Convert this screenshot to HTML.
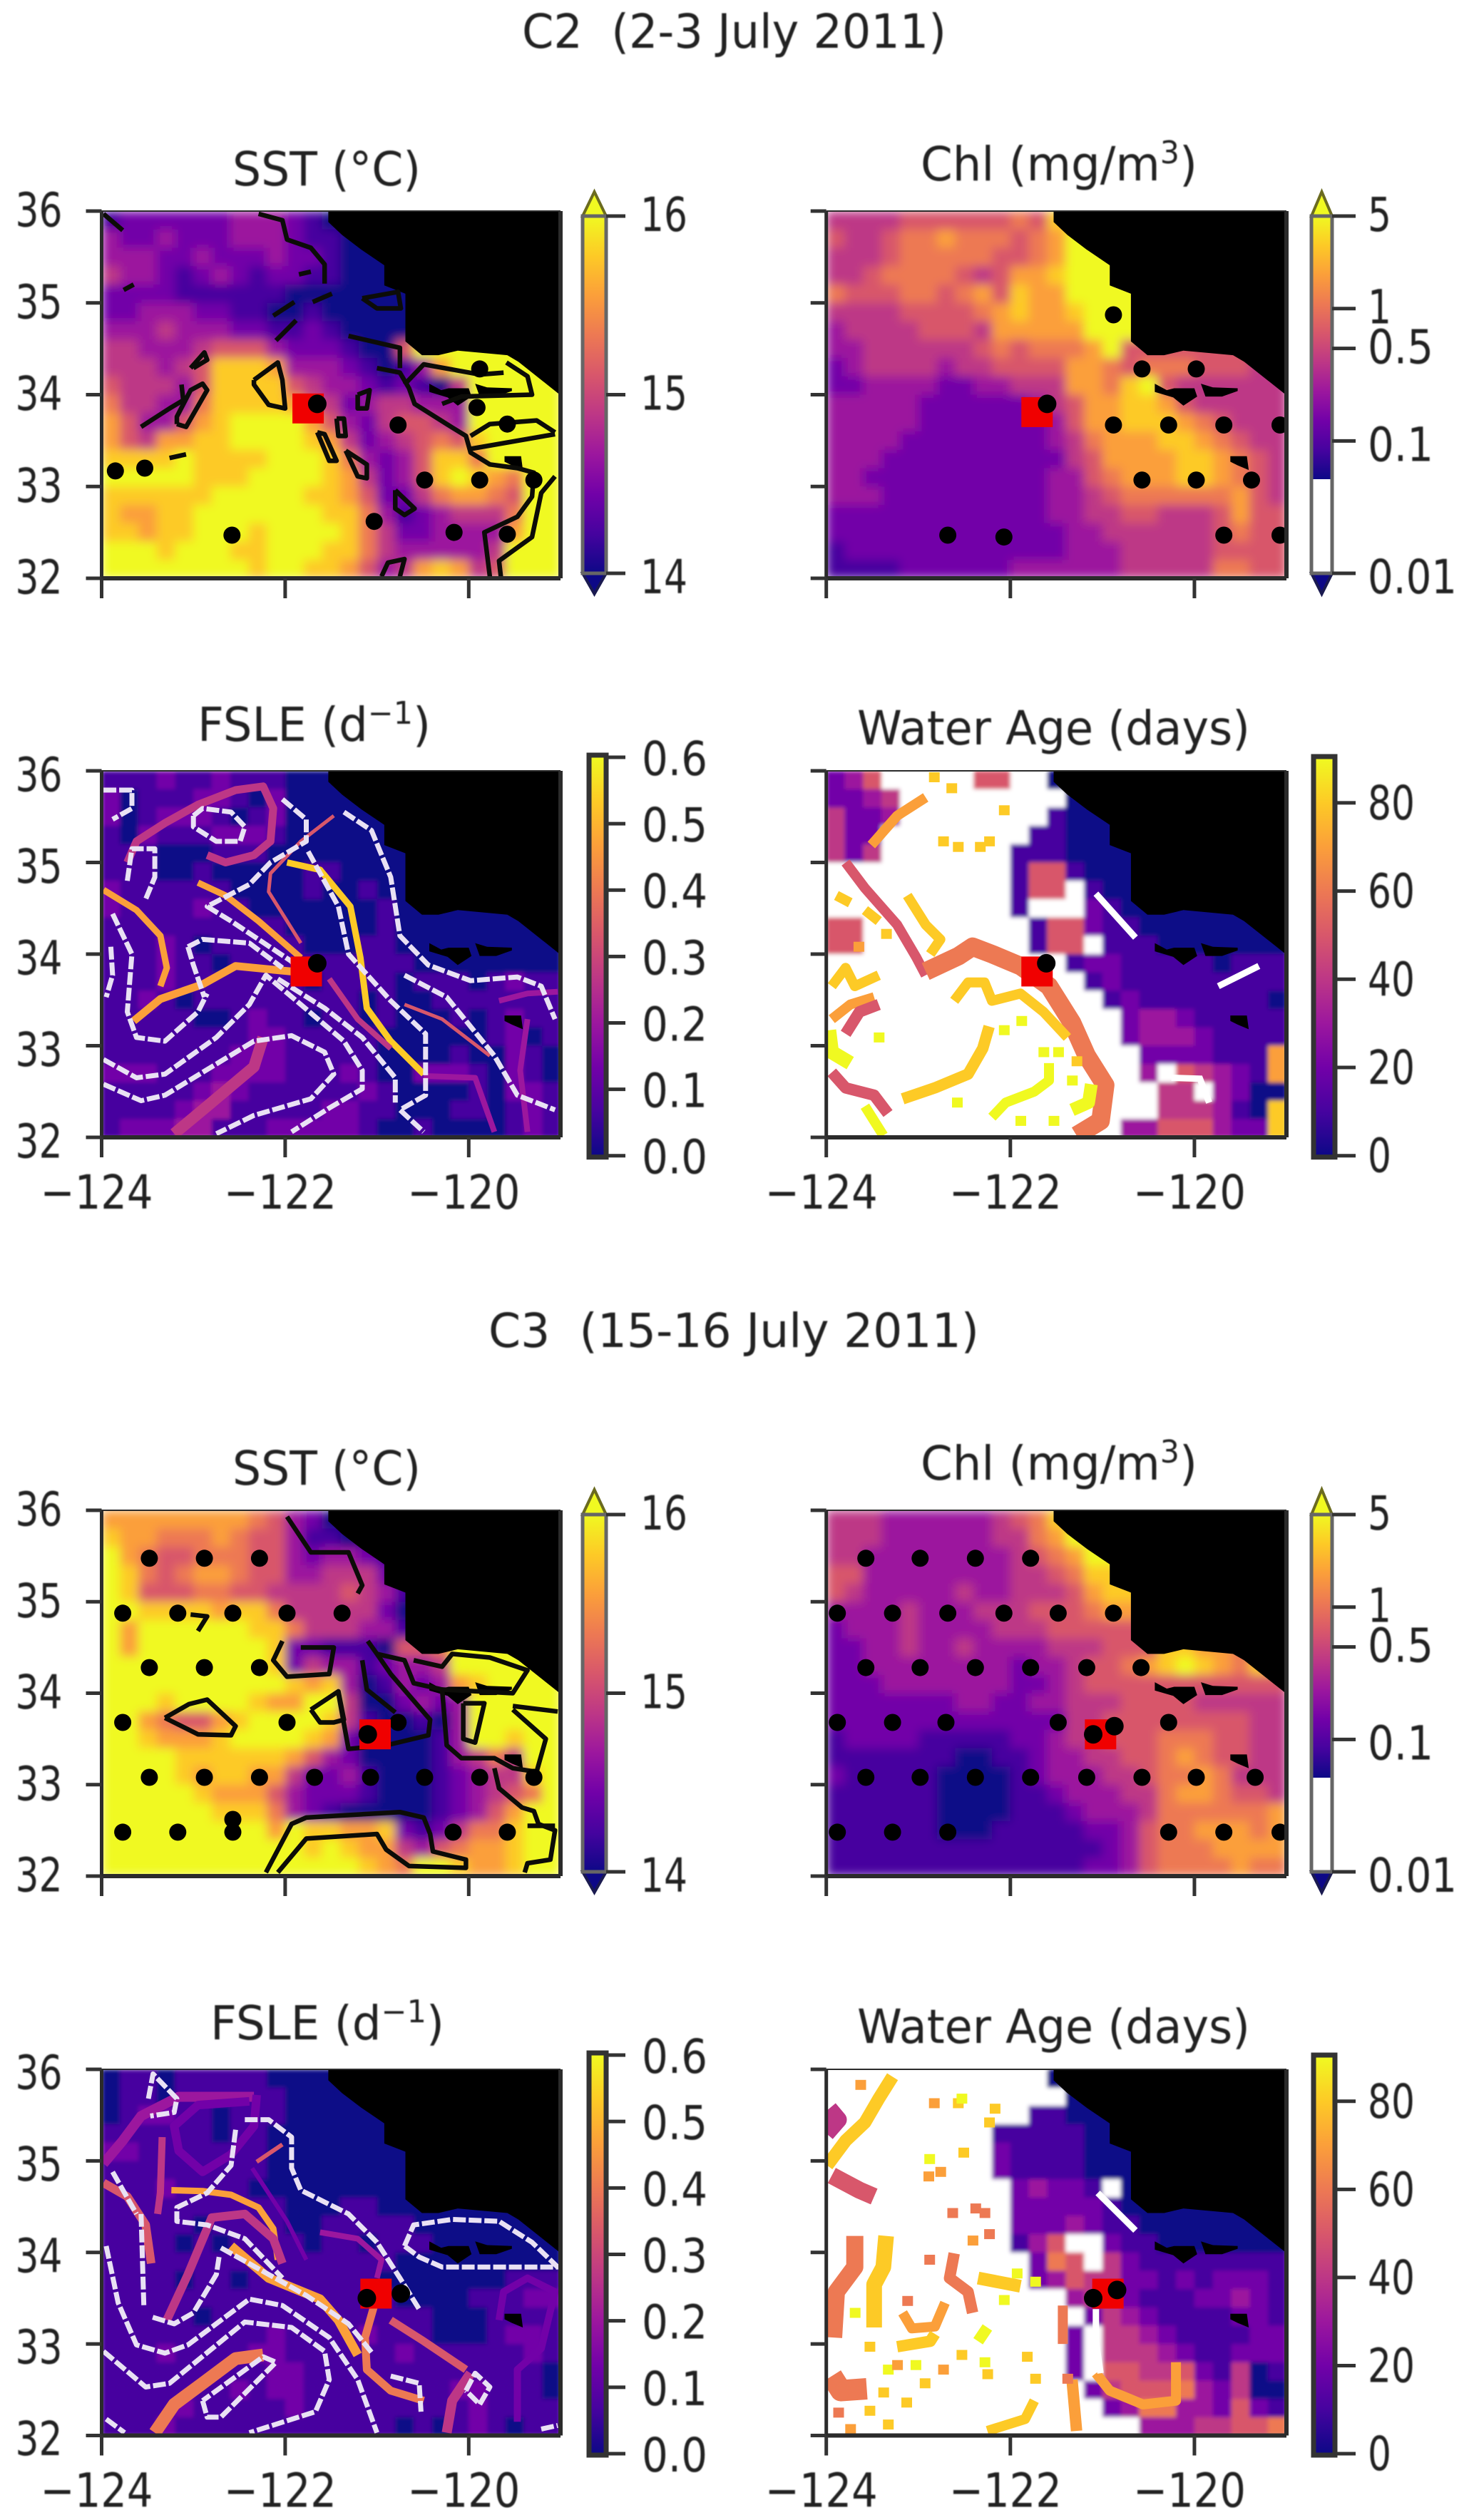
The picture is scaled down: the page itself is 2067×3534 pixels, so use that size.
<!DOCTYPE html>
<html lang="en">
<head>
<meta charset="utf-8">
<title>C2 and C3 cycle maps</title>
<style>
html,body{margin:0;padding:0;background:#fff;width:2067px;height:3534px;overflow:hidden}
svg{display:block}
text{font-family:"DejaVu Sans","Liberation Sans",sans-serif;fill:#222;font-size:66px}
</style>
</head>
<body>
<svg id="fig" xmlns="http://www.w3.org/2000/svg" width="2067" height="3534" viewBox="0 0 2067 3534">
<defs>
<filter id="soft" x="0" y="0" width="100%" height="100%"><feGaussianBlur stdDeviation="7" edgeMode="duplicate"/></filter>
<filter id="softer" x="0" y="0" width="100%" height="100%"><feGaussianBlur stdDeviation="3" edgeMode="duplicate"/></filter>
<filter id="textSoft" x="-5%" y="-20%" width="110%" height="140%"><feGaussianBlur stdDeviation="0.9"/></filter>
</defs>
<g id="plots"></g>
<g id="labels" filter="url(#textSoft)">
<text x="732" y="67" textLength="595" lengthAdjust="spacingAndGlyphs">C2&#160;&#160;(2-3 July 2011)</text>
<text x="685" y="1889" textLength="688" lengthAdjust="spacingAndGlyphs">C3&#160;&#160;(15-16 July 2011)</text>
<text x="326" y="260" textLength="264" lengthAdjust="spacingAndGlyphs">SST (°C)</text>
<text x="1291" y="253" textLength="388" lengthAdjust="spacingAndGlyphs">Chl (mg/m<tspan dy="-24" font-size="44">3</tspan><tspan dy="24">)</tspan></text>
<text x="277" y="1039" textLength="327" lengthAdjust="spacingAndGlyphs">FSLE (d<tspan dy="-24" font-size="44">−1</tspan><tspan dy="24">)</tspan></text>
<text x="1202" y="1044" textLength="551" lengthAdjust="spacingAndGlyphs">Water Age (days)</text>
<text x="326" y="2082" textLength="264" lengthAdjust="spacingAndGlyphs">SST (°C)</text>
<text x="1291" y="2075" textLength="388" lengthAdjust="spacingAndGlyphs">Chl (mg/m<tspan dy="-24" font-size="44">3</tspan><tspan dy="24">)</tspan></text>
<text x="295" y="2860" textLength="328" lengthAdjust="spacingAndGlyphs">FSLE (d<tspan dy="-24" font-size="44">−1</tspan><tspan dy="24">)</tspan></text>
<text x="1202" y="2865" textLength="551" lengthAdjust="spacingAndGlyphs">Water Age (days)</text>
</g>
</svg>
<script>
const _=-1;
const plasmaStops=['#0d0887','#46039f','#7201a8','#9c179e','#bd3786','#d8576b','#ed7953','#fb9f3a','#fdca26','#f0f921'];
const xTicks=[-124,-122,-120];
const xTickLabels=['−124','−122','−120'];
const yTicks=[36,35,34,33,32];
const yTickLabels=['36','35','34','33','32'];
const sstCbTicks=[16,15,14];
const sstCbLabels=['16','15','14'];
const chlCbTicks=[5,1,0.5,0.1,0.01];
const chlCbLabels=['5','1','0.5','0.1','0.01'];
const fsleCbTicks=[0.6,0.5,0.4,0.3,0.2,0.1,0];
const fsleCbLabels=['0.6','0.5','0.4','0.3','0.2','0.1','0.0'];
const ageCbTicks=[80,60,40,20,0];
const ageCbLabels=['80','60','40','20','0'];
const coastLine=[-121.53,36,-121.53,35.88,-121.38,35.74,-121.17,35.58,-120.92,35.41,-120.92,35.19,-120.69,35.10,-120.69,34.58,-120.51,34.43,-120.33,34.43,-120.12,34.48,-119.58,34.43,-119.46,34.36,-119.02,34.01,-119,34.01,-119,36];
const islandA=[-120.43,34.12,-120.3,34.05,-120.22,34.07,-120.0,34.07,-119.97,33.98,-120.12,33.88,-120.23,33.97,-120.43,34.03];
const islandB=[-119.93,34.12,-119.8,34.08,-119.53,34.07,-119.53,34.04,-119.7,33.98,-119.88,33.98];
const islandC=[-119.61,33.33,-119.43,33.33,-119.41,33.18,-119.53,33.23,-119.61,33.27];

const sstC2Grid=[
[1,2,2,2,2,2,2,3,3,3,2,1,0],
[3,2,2,3,2,2,2,3,3,3,2,1,1,0],
[3,3,3,2,2,3,2,2,2,3,2,2,1,0],
[4,3,3,2,1,2,3,2,1,2,2,1,1,0],
[2,2,2,2,1,1,1,1,1,1,0,0,0,0],
[2,2,3,3,3,2,2,1,1,0,0,1,0,0],
[3,3,3,4,3,3,3,2,2,1,1,2,1,0],
[4,4,3,3,3,4,5,5,5,3,2,2,2,1,0,0,5,9],
[4,4,4,3,4,5,8,8,8,7,3,3,3,2,1,0,1,3,7,9],
[5,4,4,4,3,5,8,8,8,8,5,4,3,3,2,1,2,1,0,4,9],
[6,4,4,3,3,6,8,8,8,8,7,5,4,2,3,4,4,3,3,3,9],
[7,5,3,3,5,7,8,9,9,9,9,7,5,3,2,4,5,5,4,3,9],
[7,5,4,7,7,8,8,9,9,9,9,8,7,4,2,3,4,5,6,5,8,9],
[8,8,8,8,9,8,8,8,8,9,9,9,8,6,3,2,3,5,8,8,6,9],
[9,9,9,9,9,8,8,8,9,9,9,9,8,7,4,2,3,5,8,9,8,7,6,9],
[8,8,8,8,8,8,9,9,9,9,9,8,8,7,5,2,2,4,6,7,7,6,5,9],
[8,7,7,8,8,9,9,9,9,9,9,9,8,8,6,3,1,2,3,4,4,4,6,9],
[8,8,7,8,8,9,9,9,8,9,9,9,9,8,6,4,2,2,3,3,3,3,7,9],
[9,9,9,8,9,9,9,8,8,9,9,9,8,8,6,4,3,3,3,3,3,4,9],
[9,9,9,9,9,9,9,9,8,9,9,8,8,7,5,3,4,7,8,7,4,5,9]];
const sstC2Contours=[
[-119.77,32.02,-119.83,32.5,-119.47,32.67,-119.31,32.89,-119.29,33.15,-119.47,33.2,-119.77,33.24,-119.98,33.37,-120.03,33.55,-120.24,33.68,-120.59,33.9,-120.65,34.07,-120.75,34.24,-121.0,34.29],
[-119.65,32.02,-119.67,32.19,-119.31,32.45,-119.21,32.93,-119.06,33.11],
[-119.98,33.55,-119.77,33.68,-119.26,33.72,-119.06,33.59],
[-119.98,33.41,-119.06,33.57],
[-120.29,33.9,-120.08,33.98,-119.31,34.0,-119.36,34.2,-119.59,34.35],
[-120.7,34.11,-120.49,34.33,-119.88,34.22,-119.62,34.24],
[-123.18,33.68,-123.08,33.65,-122.85,34.05,-122.9,34.12,-123.03,34.05,-123.18,33.76,-123.18,33.68],
[-123.57,33.65,-123.26,33.85,-123.11,33.94,-123.13,34.11],
[-122.34,34.16,-122.08,34.35,-122.03,34.16,-122.0,33.85,-122.18,33.89,-122.34,34.11,-122.34,34.16],
[-123.03,34.29,-122.88,34.46,-122.85,34.38,-123.0,34.29],
[-121.44,33.74,-121.36,33.74,-121.34,33.55,-121.42,33.55,-121.44,33.74],
[-121.65,33.59,-121.57,33.57,-121.44,33.28,-121.52,33.28,-121.65,33.59],
[-121.34,33.39,-121.11,33.24,-121.11,33.09,-121.21,33.11,-121.34,33.39],
[-120.8,32.96,-120.59,32.76,-120.7,32.69,-120.8,32.76,-120.8,32.96],
[-121.21,34.0,-121.08,34.05,-121.11,33.85,-121.21,33.85,-121.21,34.0],
[-120.95,32.02,-120.88,32.17,-120.7,32.21,-120.75,32.02],
[-122.29,35.97,-122.03,35.9,-121.98,35.69,-121.72,35.6,-121.57,35.42,-121.57,35.21],
[-121.16,35.05,-120.77,35.12,-120.74,34.94,-121.0,34.94,-121.16,35.05],
[-122.13,34.86,-121.9,35.01],[-122.1,34.59,-121.88,34.81],[-121.7,35.01,-121.49,35.1],[-121.85,35.31,-121.72,35.34],
[-121.31,34.64,-120.75,34.51,-120.75,34.29],
[-123.98,35.97,-123.77,35.79],[-123.76,35.14,-123.65,35.2],[-123.26,33.31,-123.08,33.35]];
const sstC2Dots=[-120.77,33.67,-120.48,33.07,-119.88,33.07,-122.58,32.47,-121.03,32.62,-119.88,34.28,-119.58,33.68,-119.91,33.86,-123.85,33.17,-123.53,33.2,-119.58,32.48,-120.16,32.5,-119.29,33.07];
const sstC2Red=[-121.75,33.85];
const sstC2Black=[-121.65,33.9];

const chlC2Grid=[
[4,4,4,4,5,5,5,5,5,5,6,5,8,8],
[5,4,4,5,6,6,7,6,6,6,5,6,7,9],
[4,4,4,5,6,6,6,6,6,5,5,6,7,9],
[4,4,5,6,6,6,6,5,4,5,7,7,8,9],
[6,5,5,5,6,6,5,6,7,5,8,7,7,9],
[4,4,4,4,5,5,5,5,6,7,8,7,7,8,9],
[3,4,4,4,4,5,5,5,4,7,7,7,7,7,9],
[3,3,4,4,4,4,4,4,5,6,5,6,6,6,7,9,5],
[2,3,4,4,4,4,3,4,4,5,5,5,5,7,7,6,5,6,6,6,5,5,5,4,4],
[2,2,3,3,3,3,2,2,3,3,4,4,4,7,7,6,8,9,5,4,4,4,4,4,4],
[3,3,3,3,3,2,2,2,2,2,2,3,4,5,7,7,8,8,7,5,4,4,4,4,4],
[3,3,3,3,3,2,2,2,2,2,2,2,3,5,7,7,8,8,8,7,6,5,4,4,4],
[3,3,3,3,2,2,2,2,2,2,2,2,3,4,6,7,7,7,8,8,7,6,5,4,4],
[3,3,3,2,2,2,2,2,2,2,2,2,2,4,5,7,7,7,7,8,8,7,6,5,4],
[3,3,2,2,2,2,2,2,2,2,2,2,3,3,5,6,7,7,7,8,8,7,6,5,4],
[3,3,3,2,2,2,2,2,2,2,2,2,3,3,4,5,6,6,6,6,6,6,7,5,4],
[2,2,2,2,2,2,2,2,2,2,2,2,3,3,4,4,5,5,4,4,4,5,7,5,5],
[2,2,2,2,2,2,2,2,2,2,2,2,2,3,3,4,4,4,4,4,4,5,6,5,5],
[1,2,2,2,2,2,2,2,2,2,2,2,2,3,3,3,4,4,4,4,4,5,5,5,5],
[1,1,1,1,2,2,2,2,2,2,3,3,3,3,3,3,4,4,4,4,4,6,6,5,5]];
const chlC2Dots=[-120.88,34.87,-120.57,34.28,-119.98,34.28,-120.88,33.67,-120.28,33.67,-119.68,33.67,-119.07,33.67,-120.57,33.07,-119.98,33.07,-119.38,33.07,-122.68,32.47,-122.07,32.45,-119.68,32.47,-119.07,32.47];
const chlC2Red=[-121.71,33.81];
const chlC2Black=[-121.6,33.9];

const fsleC2Grid=[
[1,1,1,2,1,1,2,1,1,1,0],
[2,0,1,1,1,2,2,1,0,2,0],
[2,0,1,2,2,2,1,0,1,2,0],
[1,0,2,1,1,1,2,2,2,1,0],
[1,1,1,0,0,0,1,1,1,0,0],
[1,1,1,0,0,1,0,0,0,0,0,1,1,0],
[2,1,1,1,1,1,1,0,0,0,0,1,0,0,1,0],
[2,1,1,1,1,2,1,1,0,0,0,0,0,0,0,1,0],
[1,1,1,1,1,1,1,1,1,1,0,0,0,0,0,1,0],
[1,1,1,2,1,0,1,1,1,1,1,0,0,0,1,1,0],
[1,1,1,2,1,1,0,1,1,1,1,1,1,1,1,1,1,0],
[1,1,1,2,1,1,1,1,1,1,1,0,1,1,1,1,0,1,1,1,0,1,2,1,1],
[1,1,2,1,0,1,1,1,1,1,1,1,1,1,0,1,0,0,1,1,1,1,1,1,1],
[1,1,1,1,1,0,0,1,2,1,1,0,1,1,0,1,0,0,0,1,0,1,2,1,1],
[1,1,1,1,1,1,1,1,2,2,1,1,1,1,1,0,0,0,0,0,0,1,2,0,1],
[1,1,1,1,1,1,1,2,2,2,1,1,1,1,1,0,0,0,0,1,0,0,2,1,0],
[2,2,2,1,1,1,2,2,2,2,1,1,1,2,1,0,0,2,2,2,1,0,2,1,0],
[1,1,1,1,1,2,3,2,1,1,1,1,1,1,2,1,0,0,0,0,1,0,2,2,1],
[1,1,1,1,2,3,3,1,1,1,1,1,2,2,1,1,0,0,0,1,1,0,1,2,1],
[1,2,2,2,3,3,1,1,1,2,2,2,2,2,1,0,0,1,0,0,0,0,1,2,1]];
const fsleC2RidgeLevels=[4,7,7,7,5,8,5,3,3,3,4,4];
const fsleC2Ridges=[
[-123.72,35.0,-123.62,35.23,-123.31,35.43,-122.95,35.63,-122.54,35.79,-122.24,35.83,-122.13,35.59,-122.16,35.23,-122.34,35.08,-122.65,35.0,-122.85,35.08],
[-123.98,34.70,-123.62,34.48,-123.36,34.2,-123.29,33.85,-123.36,33.65],
[-122.95,34.78,-122.65,34.64,-122.29,34.36,-121.83,33.96],
[-123.65,33.27,-123.36,33.51,-122.9,33.67,-122.54,33.87,-121.93,33.81],
[-121.47,35.51,-121.83,35.23,-122.16,34.88,-122.18,34.68,-121.98,34.36,-121.83,34.12],
[-121.98,35.0,-121.62,34.92,-121.29,34.52,-121.18,33.96,-121.11,33.41,-120.85,33.05,-120.49,32.69],
[-120.7,33.45,-120.29,33.29,-119.77,32.89],
[-120.49,32.67,-119.93,32.65,-119.72,32.06],
[-119.67,33.49,-119.36,33.57,-119.03,33.59],
[-119.36,33.29,-119.44,32.73,-119.36,32.06],
[-121.52,33.73,-121.21,33.29,-120.85,32.97],
[-123.21,32.04,-122.85,32.34,-122.34,32.77,-122.24,33.09]];
const fsleC2Valleys=[
[-123.98,35.79,-123.67,35.79,-123.67,35.59,-123.88,35.47],
[-123.0,35.51,-122.9,35.59,-122.59,35.55,-122.44,35.39,-122.49,35.23,-122.75,35.23,-123.0,35.39,-123.0,35.51],
[-122.03,35.69,-121.77,35.47,-121.77,35.23,-122.16,35.0,-122.39,34.76,-122.85,34.52,-122.59,34.36,-121.93,33.92,-121.83,33.77],
[-121.36,35.55,-121.06,35.35,-120.85,34.84,-120.75,34.2,-120.44,33.88,-119.98,33.71,-119.47,33.75,-119.21,33.65,-119.06,33.29],
[-121.75,35.12,-121.42,34.52,-121.31,34.0,-120.85,33.49,-120.47,33.13,-120.47,32.46,-120.75,32.3,-120.49,32.06],
[-123.72,34.8,-123.67,35.15,-123.42,35.15,-123.42,34.84,-123.52,34.6],
[-123.9,34.08,-123.88,33.77,-123.95,33.53],
[-123.88,34.44,-123.67,34.0,-123.72,33.37,-123.62,33.09,-123.31,33.05,-122.95,33.37,-122.85,33.57],
[-123.98,32.85,-123.62,32.65,-123.31,32.69,-122.75,33.09,-122.39,33.45,-122.21,33.77,-121.83,33.45,-121.36,33.05,-121.16,32.73,-121.16,32.53,-121.52,32.32,-121.93,32.06],
[-123.98,32.58,-123.57,32.4,-123.31,32.46,-122.34,33.05,-121.93,33.11,-121.57,32.93,-121.47,32.69,-121.72,32.42,-122.34,32.24,-122.75,32.04],
[-123.06,34.08,-122.9,34.16,-122.39,34.12,-122.03,33.85],
[-122.08,33.73,-121.57,33.41,-121.16,33.09,-120.8,32.65,-120.8,32.38],
[-120.7,33.77,-120.24,33.53,-119.72,32.89,-119.47,32.46,-119.06,32.3],
[-123.06,34.08,-123.0,33.88,-122.88,33.53]];
const fsleC2Red=[-121.77,33.81];
const fsleC2Black=[-121.65,33.9];

const ageC2Grid=[
[2,3,5,_,_,_,_,_,5,5,_,_,0],
[2,2,3,4,_,_,_,_,_,_,_,_,_,0],
[4,2,2,3,_,_,_,_,_,_,_,_,1,0],
[4,2,2,_,_,_,_,_,_,_,_,1,1,0],
[4,2,4,_,_,_,_,_,_,_,1,1,1,0],
[_,_,_,_,_,_,_,_,_,_,1,5,5,1,0],
[_,_,_,_,_,_,_,_,_,_,1,5,5,_,1,0],
[_,_,_,_,_,_,_,_,_,_,1,_,_,_,2,1,0],
[5,5,_,_,_,_,_,_,_,_,_,1,5,5,2,1,1,0],
[5,5,_,_,_,_,_,_,_,_,_,1,5,5,_,1,1,1,0],
[_,_,_,_,_,_,_,_,_,_,_,_,_,1,2,2,1,1,1,1,1,0,1,1,1],
[_,_,_,_,_,_,_,_,_,_,_,_,_,_,1,2,1,1,1,1,1,1,1,1,1],
[_,_,_,_,_,_,_,_,_,_,_,_,_,_,_,1,2,1,1,1,1,1,1,1,0],
[_,_,_,_,_,_,_,_,_,_,_,_,_,_,_,_,2,3,3,2,1,1,1,1,1],
[_,_,_,_,_,_,_,_,_,_,_,_,_,_,_,_,2,3,3,3,2,1,1,1,1],
[_,_,_,_,_,_,_,_,_,_,_,_,_,_,_,_,_,2,2,2,2,1,1,1,7],
[_,_,_,_,_,_,_,_,_,_,_,_,_,_,_,_,_,3,_,5,4,3,2,1,7],
[_,_,_,_,_,_,_,_,_,_,_,_,_,_,_,_,_,_,4,4,_,3,2,0,0],
[_,_,_,_,_,_,_,_,_,_,_,_,_,_,_,_,_,_,4,4,4,3,1,0,8],
[_,_,_,_,_,_,_,_,_,_,_,_,_,_,_,_,3,3,5,5,5,3,2,2,8]];
const ageC2RidgeLevels=[7,5,6,8,8,8,8,7,5,9,5,9,8,8,9,9];
const ageC2Ridges=[
[-123.51,35.19,-123.23,35.51,-122.92,35.71],
[-123.79,35.0,-123.58,34.72,-123.23,34.32,-123.02,33.96,-122.92,33.77],
[-122.92,33.81,-122.56,33.98,-122.41,34.08,-122.2,34.0,-121.89,33.87,-121.58,33.65,-121.33,33.25,-121.17,32.89,-120.97,32.57,-121.02,32.18,-121.28,32.02],
[-123.12,34.64,-122.92,34.32,-122.76,34.16,-122.87,34.0],
[-123.89,34.64,-123.74,34.56],
[-123.58,34.48,-123.43,34.36],
[-123.94,33.65,-123.79,33.85,-123.69,33.65,-123.43,33.77],
[-123.94,33.29,-123.74,33.45,-123.48,33.53],
[-123.79,33.13,-123.64,33.37,-123.43,33.45],
[-123.97,33.17,-123.94,32.93,-123.74,32.81],
[-123.94,32.71,-123.79,32.54,-123.48,32.46,-123.33,32.26],
[-123.58,32.34,-123.48,32.18,-123.38,32.02],
[-123.17,32.42,-122.82,32.54,-122.46,32.69,-122.3,32.97,-122.23,33.21],
[-122.61,33.49,-122.46,33.69,-122.28,33.69,-122.2,33.49,-121.89,33.57,-121.64,33.37,-121.38,33.09],
[-121.58,32.81,-121.58,32.62,-121.74,32.5,-122.05,32.38,-122.2,32.22],
[-121.12,32.58,-121.15,32.38,-121.33,32.3]];
const ageC2Streaks=[[-121.07,34.66,-120.64,34.18],[-119.74,33.65,-119.3,33.87],[-120.25,32.65,-119.94,32.64,-119.84,32.38]];
const ageC2SpeckLevels=[8,8,8,8,8,8,8,7,8,9,9,9,9,9,9,9,9,8,9];
const ageC2Specks=[-122.07,35.57,-122.73,35.23,-122.57,35.17,-122.33,35.17,-122.23,35.23,-122.83,35.93,-122.64,35.81,-123.65,34.08,-123.35,34.22,-121.89,32.18,-121.53,32.18,-122.58,32.38,-123.43,33.09,-122.07,33.17,-121.88,33.27,-121.64,32.93,-121.48,32.93,-121.28,32.83,-121.33,32.62];
const ageC2Red=[-121.71,33.81];
const ageC2Black=[-121.61,33.9];

const sstC3Grid=[
[7,7,7,7,7,7,7,7,6,5,3,2,0],
[8,7,7,6,6,6,7,6,5,5,3,1,1,0],
[9,7,6,5,5,6,6,6,5,5,3,2,3,3,2,1],
[9,8,6,5,6,7,7,6,5,5,3,3,4,4,4,2,0],
[9,8,5,5,5,6,6,5,5,4,4,4,4,5,4,3,1,0],
[9,9,8,8,8,8,7,8,8,6,4,4,4,4,4,2,0],
[9,7,9,9,9,9,9,9,8,8,6,4,4,4,3,3,1,0],
[9,7,9,9,9,9,9,9,9,8,2,2,1,1,1,0,5,5,6,9],
[9,9,9,9,9,9,9,9,9,8,2,4,3,3,1,2,3,3,4,9],
[9,9,9,9,9,9,9,9,9,9,8,7,8,3,0,1,3,2,3,7,8,9],
[9,9,9,8,9,9,9,9,8,7,7,9,9,4,0,0,2,3,2,3,9],
[9,9,7,6,5,5,7,8,9,9,9,9,8,4,1,0,0,1,0,3,9],
[9,9,8,7,7,7,8,9,9,9,9,8,7,2,0,0,0,0,1,3,9,9,8,9,9],
[9,9,9,9,8,8,8,8,8,8,7,5,3,2,0,0,0,0,1,3,4,6,4,9,9],
[9,9,9,9,8,7,8,8,7,7,4,2,2,3,1,0,0,0,1,2,3,4,4,8,9],
[9,9,9,9,9,8,7,7,7,5,3,2,2,2,1,0,0,0,1,2,3,4,5,6,9],
[9,9,9,9,9,9,8,8,8,6,3,2,1,0,0,0,0,0,1,2,3,5,7,9,9],
[9,9,9,9,9,9,9,9,9,7,9,8,8,7,7,8,2,1,2,4,6,6,8,9,9],
[9,9,9,9,9,9,9,9,9,9,9,8,9,8,7,7,4,3,5,6,7,7,8,9,9],
[9,9,9,9,9,9,9,9,9,9,9,9,9,9,8,7,6,9,9,8,7,7,8,9,9]];
const sstC3Contours=[
[-122.21,32.04,-121.93,32.57,-121.77,32.64,-120.75,32.7,-120.49,32.64,-120.42,32.46,-120.39,32.27,-120.03,32.18,-120.03,32.09,-120.65,32.11,-120.9,32.29,-121.0,32.46,-121.77,32.41,-122.08,32.04],
[-122.03,34.57,-122.13,34.36,-121.98,34.18,-121.52,34.21,-121.47,34.5,-121.83,34.5],
[-121.72,33.82,-121.42,34.02,-121.36,33.71,-121.47,33.68,-121.62,33.68,-121.72,33.82],
[-121.42,34.0,-121.31,33.39,-120.9,33.43,-120.44,33.54,-120.42,33.71,-120.85,34.21,-121.0,34.43,-121.1,34.57],
[-121.16,34.36,-121.11,34.04,-120.8,33.79],
[-121.0,34.43,-120.7,34.36,-120.6,34.11,-120.29,34.04,-120.24,33.43,-120.08,33.29,-119.72,33.29,-119.52,33.18,-119.26,33.14,-119.16,33.5,-119.52,33.82],
[-120.29,34.04,-119.52,34.0,-119.36,34.25,-119.77,34.39,-120.18,34.43,-120.29,34.29,-120.6,34.36],
[-119.52,33.86,-119.03,33.8],
[-120.06,33.89,-119.83,33.89,-119.93,33.46,-120.06,33.5,-120.06,33.89],
[-119.72,33.18,-119.67,32.96,-119.42,32.75,-119.29,32.71,-119.24,32.57,-119.06,32.5,-119.11,32.18,-119.36,32.14,-119.39,32.04],
[-119.36,32.55,-119.06,32.55],
[-123.31,33.73,-123.05,33.88,-122.85,33.93,-122.54,33.64,-122.59,33.54,-122.95,33.55,-123.31,33.73],
[-123.03,34.86,-122.85,34.84,-122.95,34.68],
[-121.98,35.93,-121.72,35.54,-121.31,35.54,-121.16,35.18,-121.21,35.09]];
const sstC3Dots=[-123.48,35.475,-122.88,35.475,-122.28,35.475,-123.77,34.875,-123.17,34.875,-122.57,34.875,-121.98,34.875,-121.38,34.875,-123.48,34.28,-122.88,34.28,-122.28,34.28,-123.77,33.68,-121.98,33.68,-120.77,33.68,-123.48,33.08,-122.88,33.08,-122.28,33.08,-121.68,33.08,-121.07,33.08,-120.48,33.08,-119.88,33.08,-119.29,33.08,-123.77,32.48,-123.17,32.48,-122.57,32.48,-120.17,32.48,-119.58,32.48,-122.57,32.62];
const sstC3Red=[-121.02,33.55];
const sstC3Black=[-121.1,33.55];

const chlC3Grid=[
[4,4,4,3,3,3,3,3,3,4,5,6,8,9],
[4,4,4,3,3,3,3,3,3,4,4,6,7,9],
[4,4,3,3,3,3,3,3,3,3,4,5,6,7,9],
[5,5,3,3,3,3,3,3,3,3,4,4,5,6,8],
[5,4,3,3,3,3,3,4,3,3,4,4,4,5,7,8],
[3,3,3,3,4,3,3,3,4,4,4,5,5,5,6,7],
[2,3,3,3,4,3,3,3,3,4,4,4,5,5,5,5],
[2,2,3,3,4,3,3,4,3,3,3,3,4,4,4,5,5,5,8,8,7,7,6,5,5],
[2,2,3,3,3,3,3,3,3,3,2,3,3,4,5,5,6,7,8,9,8,7,6,8,8],
[2,2,2,3,3,3,3,3,3,3,2,2,3,4,5,5,5,5,5,5,5,5,5,5,5],
[2,2,2,2,2,2,2,3,3,2,2,3,3,4,4,4,5,5,5,5,4,4,4,4,4],
[2,2,2,2,2,2,2,2,2,2,2,2,2,4,4,5,5,5,5,5,5,5,5,4,4],
[1,2,2,2,2,1,1,1,1,1,2,2,3,4,4,5,5,5,6,6,6,5,5,4,4],
[1,1,1,1,1,1,1,0,0,1,1,2,3,3,4,4,5,5,6,7,6,5,5,4,4],
[2,1,1,1,1,1,0,0,0,0,1,2,3,3,3,4,4,5,6,6,7,6,4,4,4],
[1,1,1,1,1,1,0,0,0,0,1,1,2,3,3,3,4,4,6,7,7,6,5,5,4],
[1,1,1,1,1,1,0,0,0,0,1,1,1,2,3,3,3,4,6,6,6,6,6,6,7],
[1,1,1,1,1,1,0,0,0,1,1,1,1,1,2,2,3,5,6,6,7,7,7,6,7],
[1,1,1,1,1,1,1,1,1,1,1,1,1,1,1,2,3,5,6,6,6,7,7,7,7],
[1,1,1,1,1,1,1,1,1,1,1,1,1,1,2,2,3,5,6,6,6,6,7,6,6]];
const chlC3Dots=[-123.57,35.475,-122.98,35.475,-122.38,35.475,-121.78,35.475,-123.88,34.875,-123.28,34.875,-122.68,34.875,-122.07,34.875,-121.48,34.875,-120.88,34.875,-123.57,34.28,-122.98,34.28,-122.38,34.28,-121.78,34.28,-121.17,34.28,-120.58,34.28,-123.88,33.68,-123.28,33.68,-122.7,33.68,-121.48,33.68,-120.28,33.68,-123.57,33.08,-122.98,33.08,-122.38,33.08,-121.78,33.08,-121.17,33.08,-120.57,33.08,-119.98,33.08,-119.34,33.08,-123.88,32.48,-123.28,32.48,-122.68,32.48,-120.28,32.48,-119.68,32.48,-119.07,32.48];
const chlC3Red=[-121.02,33.55];
const chlC3Black=[-121.1,33.55,-120.87,33.64];

const fsleC3Grid=[
[0,1,1,0,1,1,1,1,1,0,0],
[0,1,1,0,1,1,1,1,1,1,0],
[0,1,2,2,1,1,0,1,1,1,0],
[1,1,1,1,1,1,0,1,1,0,0],
[2,2,1,1,1,1,1,1,1,0,0],
[1,1,1,1,1,1,1,1,1,0,0],
[1,1,1,2,1,1,1,1,0,0,0],
[1,1,1,1,1,1,1,1,1,1,0,0,0,1,1,0],
[1,1,1,1,1,0,1,1,1,1,0,0,1,1,1,1,1,0],
[1,1,1,1,0,1,0,1,1,1,1,0,1,1,0,1,1,1,0],
[1,1,1,1,1,1,1,1,1,1,1,1,1,1,1,1,0],
[1,1,1,1,0,1,1,0,1,1,1,1,1,1,1,0,0,0,0,0,0,0,1,1,1],
[1,1,1,1,1,1,1,1,1,1,1,1,1,1,1,1,0,0,0,0,1,1,1,2,2],
[1,1,1,1,1,0,1,1,1,1,1,1,1,1,1,1,1,1,0,0,0,1,1,1,1],
[1,1,1,1,1,1,1,1,1,2,1,1,1,1,2,1,1,1,0,0,0,1,2,2,1],
[1,1,1,2,1,1,1,1,2,2,1,1,1,1,1,1,2,1,1,1,1,1,1,2,1],
[1,1,1,1,1,1,1,1,1,2,2,1,1,1,1,1,1,1,1,1,1,1,1,1,0],
[1,1,1,1,1,1,1,2,1,2,2,1,1,1,1,1,1,1,1,2,2,1,1,1,0],
[1,1,1,1,2,1,1,1,1,1,2,1,1,1,1,1,1,1,1,1,2,1,1,1,1],
[1,1,1,2,1,1,1,1,1,1,1,1,1,1,1,1,0,1,0,1,2,1,0,1,1]];
const fsleC3RidgeLevels=[3,2,7,5,4,7,6,5,6,3,4,2,4,5,2];
const fsleC3Ridges=[
[-123.98,34.97,-123.77,35.22,-123.57,35.49,-123.16,35.7,-122.34,35.7],
[-122.31,35.72,-122.34,35.38,-122.59,35.07,-122.9,34.88,-123.16,35.11,-123.21,35.38,-122.95,35.61,-122.39,35.65],
[-123.24,34.68,-122.9,34.67,-122.59,34.63,-122.29,34.49,-122.13,34.26,-122.08,33.92],
[-123.98,34.76,-123.72,34.61,-123.52,34.3,-123.46,33.88],
[-123.29,33.26,-123.06,33.76,-122.8,34.38,-122.44,34.42,-122.13,34.15,-122.03,33.88],
[-122.59,34.07,-122.18,33.72,-121.62,33.49,-121.42,33.26,-121.21,32.88],
[-121.03,33.42,-121.13,33.07,-121.11,32.72,-120.85,32.49,-120.49,32.38],
[-120.85,33.26,-120.49,33.03,-120.03,32.72],
[-123.42,32.03,-123.21,32.34,-122.9,32.57,-122.54,32.84,-122.24,32.88],
[-121.62,34.22,-121.21,34.15,-120.95,33.92,-121.0,33.72],
[-120.24,32.03,-120.18,32.38,-119.98,32.68],
[-119.67,33.26,-119.62,33.57,-119.36,33.72,-119.06,33.57,-119.21,32.95,-119.47,32.72,-119.47,32.15],
[-123.34,35.26,-123.36,34.65,-123.39,34.42],
[-122.31,34.99,-122.03,35.18],
[-122.36,34.92,-121.98,34.34,-121.77,33.92]];
const fsleC3Valleys=[
[-123.49,35.68,-123.44,35.95,-123.18,35.68,-123.21,35.53,-123.47,35.49],
[-122.44,35.45,-122.18,35.45,-121.93,35.26,-121.93,34.92,-121.83,34.68,-121.31,34.42,-121.0,34.11,-120.75,33.72,-120.54,33.38],
[-122.54,35.34,-122.59,34.95,-122.85,34.65,-123.18,34.49,-123.18,34.34,-122.85,34.3,-122.44,34.15,-122.03,33.72],
[-120.7,34.07,-120.6,34.3,-120.18,34.36,-119.67,34.34,-119.31,34.11,-119.03,33.84,-119.47,33.84,-120.29,33.84,-120.54,33.95,-120.7,34.07],
[-123.95,34.07,-123.82,33.45,-123.62,32.99,-123.31,32.9,-123.06,32.99,-122.39,33.49,-122.03,33.42,-121.52,33.07,-121.21,32.61,-121.0,32.03],
[-123.98,32.92,-123.52,32.53,-123.26,32.57,-122.44,33.24,-121.93,33.18,-121.57,32.92,-121.52,32.61,-121.67,32.26,-122.39,32.03],
[-122.9,32.38,-122.85,32.2,-122.7,32.2,-122.1,32.8,-122.24,32.86,-122.9,32.38],
[-122.72,33.95,-122.75,33.76,-123.0,33.34,-123.21,33.22,-123.47,33.3],
[-123.57,34.42,-123.54,33.42],
[-123.88,34.88,-123.62,34.42],
[-122.7,34.05,-121.77,33.53,-121.31,33.22,-121.06,32.91],
[-120.85,32.65,-120.54,32.57,-120.52,32.26],
[-120.03,32.49,-119.93,32.68,-119.77,32.53,-119.88,32.34,-120.03,32.49],
[-119.21,32.07,-119.03,32.11],
[-123.95,32.18,-123.75,32.03]];
const fsleC3Red=[-121.01,33.55];
const fsleC3Black=[-121.11,33.5,-120.74,33.55];

const ageC3Grid=[
[_,_,_,_,_,_,_,_,_,_,_,_,0],
[_,_,_,_,_,_,_,_,_,_,_,_,_,0],
[_,_,_,_,_,_,_,_,_,_,_,1,1,0],
[_,_,_,_,_,_,_,_,_,1,1,1,1,1,0],
[_,_,_,_,_,_,_,_,_,2,1,1,1,1,0],
[_,_,_,_,_,_,_,_,_,2,1,1,1,1,0],
[_,_,_,_,_,_,_,_,_,_,2,3,2,2,1,_,0],
[_,_,_,_,_,_,_,_,_,_,2,2,2,2,2,1,0],
[_,_,_,_,_,_,_,_,_,_,2,2,2,3,2,1,1,0],
[_,_,_,_,_,_,_,_,_,_,1,3,5,_,_,2,1,1,0],
[_,_,_,_,_,_,_,_,_,_,_,2,6,5,_,4,2,1,1,1,1,1,1,1,1],
[_,_,_,_,_,_,_,_,_,_,_,2,3,5,4,4,2,2,1,2,1,2,2,2,1],
[_,_,_,_,_,_,_,_,_,_,_,_,_,3,4,4,2,1,1,1,2,2,3,2,1],
[_,_,_,_,_,_,_,_,_,_,_,_,_,_,2,4,3,2,1,1,1,1,2,2,1],
[_,_,_,_,_,_,_,_,_,_,_,_,_,2,_,4,4,3,2,1,1,1,1,2,2],
[_,_,_,_,_,_,_,_,_,_,_,_,_,2,_,4,4,4,3,2,1,1,2,2,2],
[_,_,_,_,_,_,_,_,_,_,_,_,_,2,_,5,5,4,4,5,2,1,4,0,1],
[_,_,_,_,_,_,_,_,_,_,_,_,_,_,2,4,5,5,5,6,3,2,4,0,0],
[_,_,_,_,_,_,_,_,_,_,_,_,_,_,_,2,3,6,6,3,3,2,5,2,1],
[_,_,_,_,_,_,_,_,_,_,_,_,_,_,_,_,_,3,3,3,4,4,5,5,6]];
const ageC3RidgeLevels=[8,4,5,6,8,7,6,8,6,8,7,6,9,8,7];
const ageC3Ridges=[
[-123.99,34.95,-123.79,35.22,-123.58,35.42,-123.43,35.68,-123.28,35.92],
[-123.97,35.57,-123.87,35.45,-124,35.3],
[-123.94,34.84,-123.64,34.68,-123.48,34.61],
[-123.69,34.18,-123.69,33.84,-123.89,33.57,-123.92,33.07],
[-123.35,34.18,-123.38,33.84,-123.48,33.65,-123.48,33.18],
[-123.17,33.34,-123.07,33.17,-122.82,33.19,-122.71,33.45],
[-122.61,33.99,-122.66,33.72,-122.46,33.57,-122.41,33.34],
[-122.35,33.72,-121.89,33.63],
[-123.94,32.65,-123.84,32.49,-123.56,32.51],
[-121.74,32.38,-121.84,32.18,-122.25,32.05],
[-121.33,32.61,-121.28,32.05],
[-121.43,33.42,-121.43,33.0],
[-122.35,33.03,-122.25,33.18],
[-123.23,32.97,-122.87,33.03,-122.82,33.11],
[-121.07,32.68,-120.92,32.49,-120.56,32.34,-120.2,32.38,-120.2,32.8]];
const ageC3Streaks=[[-121.05,34.65,-120.64,34.24],[-121.07,33.38,-121.07,33.03,-121.02,32.68]];
const ageC3SpeckLevels=[7,7,8,9,8,8,9,8,7,7,6,6,6,6,7,6,9,9,9,6,9,7,9,7,8,8,8,8,8,7,8,6,8,9,8,8,8,9,6];
const ageC3Specks=[-123.63,35.83,-122.83,35.63,-122.57,35.63,-122.53,35.68,-122.17,35.57,-122.23,35.42,-122.88,35.02,-122.51,35.09,-122.89,34.83,-122.76,34.88,-122.63,34.43,-122.38,34.48,-122.28,34.43,-122.23,34.2,-122.41,34.13,-122.88,33.92,-121.93,33.77,-121.73,33.68,-122.07,33.48,-123.12,33.47,-123.33,32.72,-123.23,32.77,-123.03,32.77,-122.73,32.72,-122.93,32.57,-123.38,32.47,-123.13,32.36,-123.53,32.27,-123.33,32.12,-123.74,32.07,-121.73,32.62,-121.38,32.62,-121.82,32.86,-122.28,32.8,-122.25,32.67,-122.53,32.88,-123.53,32.97,-123.69,33.34,-123.87,32.25];
const ageC3Red=[-120.94,33.55];
const ageC3Black=[-121.1,33.5,-120.84,33.59];

const NS='http://www.w3.org/2000/svg';
const plots=document.getElementById('plots');
const labelLayer=document.getElementById('labels');
const defs=document.querySelector('defs');

function make(tag,attrs,parent){
  const e=document.createElementNS(NS,tag);
  for(const k in attrs)e.setAttribute(k,attrs[k]);
  parent.appendChild(e);
  return e;
}
function hexToRgb(h){return [1,3,5].map(i=>parseInt(h.substr(i,2),16));}
function levelColor(v){
  if(v<0)return '#ffffff';
  const t=Math.max(0,Math.min(plasmaStops.length-1,v));
  const a=Math.floor(t),b=Math.min(plasmaStops.length-1,a+1),f=t-a;
  const A=hexToRgb(plasmaStops[a]),B=hexToRgb(plasmaStops[b]);
  return 'rgb('+A.map((c,i)=>Math.round(c+(B[i]-c)*f)).join(',')+')';
}
function pathFrom(flat,xs,ys,close){
  let d='';
  for(let i=0;i<flat.length;i+=2)d+=(i?'L':'M')+xs(flat[i]).toFixed(1)+' '+ys(flat[i+1]).toFixed(1);
  return d+(close?'Z':'');
}
function labelWidth(s){
  let w=0;
  for(const ch of s)w+=ch==='.'?26:ch==='−'?60:33;
  return w;
}
function addText(str,x,y,anchor,width,name){
  const t=make('text',{x:x,y:y,'text-anchor':anchor,textLength:width,lengthAdjust:'spacingAndGlyphs'},labelLayer);
  
  
  t.textContent=str;
}

function drawPanel(p){
  const [x0,y0,x1,y1]=p.box;
  const xs=lon=>x0+(lon+124)/5*(x1-x0);
  const ys=lat=>y0+(36-lat)/4*(y1-y0);
  const g=make('g',{},plots);
  
  
  const clip=make('clipPath',{id:'clip-'+p.name},defs);
  make('rect',{x:x0,y:y0,width:x1-x0,height:y1-y0},clip);
  const inner=make('g',{'clip-path':'url(#clip-'+p.name+')'},g);
  
  
  const field=make('g',p.blur?{filter:'url(#'+p.blur+')'}:{},inner);
  
  
  p.grid.forEach((row,r)=>{
    for(let c=0;c<25;c++){
      const v=row[c]!==undefined?row[c]:row[row.length-1];
      const lon=-124+c*0.2,lat=36-r*0.2;
      const cell=make('rect',{x:xs(lon).toFixed(1),y:ys(lat).toFixed(1),width:(xs(lon+0.2)-xs(lon)+0.6).toFixed(1),height:(ys(lat-0.2)-ys(lat)+0.6).toFixed(1),fill:levelColor(v)},field);
      
      
    }
  });
  (p.ridges||[]).forEach((pts,i)=>{
    const line=make('path',{d:pathFrom(pts,xs,ys),fill:'none',stroke:levelColor(p.ridgeLevels[i]),'stroke-width':p.ridgeWidths[i],'stroke-linejoin':'round'},inner);
    
    
  });
  (p.streaks||[]).forEach(pts=>{
    const line=make('path',{d:pathFrom(pts,xs,ys),fill:'none',stroke:'#ffffff','stroke-width':9},inner);
    
    
  });
  if(p.specks){
    for(let i=0;i<p.specks.length;i+=2){
      const sp=make('rect',{x:(xs(p.specks[i])-7).toFixed(1),y:(ys(p.specks[i+1])-7).toFixed(1),width:15,height:14,fill:levelColor(p.speckLevels[i/2])},inner);
      
      
    }
  }
  (p.valleys||[]).forEach(pts=>{
    const line=make('path',{d:pathFrom(pts,xs,ys),fill:'none',stroke:'#e9e1f4','stroke-width':7,'stroke-dasharray':'18 4','stroke-linejoin':'round'},inner);
    
    
  });
  const land=make('path',{d:pathFrom(coastLine,xs,ys,true),fill:'#000'},inner);
  
  
  [islandA,islandB,islandC].forEach(isl=>{
    const e=make('path',{d:pathFrom(isl,xs,ys,true),fill:'#000'},inner);
    
    
  });
  (p.contours||[]).forEach(pts=>{
    const line=make('path',{d:pathFrom(pts,xs,ys),fill:'none',stroke:'#0c0c08','stroke-width':6.5,'stroke-linejoin':'round'},inner);
    
    
  });
  if(p.dots){
    for(let i=0;i<p.dots.length;i+=2){
      const dot=make('circle',{cx:xs(p.dots[i]).toFixed(1),cy:ys(p.dots[i+1]).toFixed(1),r:12,fill:'#000'},inner);
      
      
    }
  }
  const red=make('rect',{x:xs(p.red[0])-22,y:ys(p.red[1])-21,width:44,height:42,fill:'#f00000'},inner);
  
  
  for(let i=0;i<p.black.length;i+=2){
    const bk=make('circle',{cx:xs(p.black[i]).toFixed(1),cy:ys(p.black[i+1]).toFixed(1),r:13,fill:'#000'},inner);
    
    
  }
  const spines=[[x0,y0,x0,y1,5,'left'],[x0,y1,x1,y1,6,'bottom'],[x1,y0,x1,y1,6,'right'],[x0,y0,x1,y0,2,'top']];
  spines.forEach(s=>{
    const ln=make('line',{x1:s[0],y1:s[1],x2:s[2],y2:s[3],stroke:'#2b2b2b','stroke-width':s[4]},g);
    
    
  });
  yTicks.forEach((v,i)=>{
    const ln=make('line',{x1:x0-22,y1:ys(v),x2:x0,y2:ys(v),stroke:'#333','stroke-width':5},g);
    
    
    if(p.showY)addText(yTickLabels[i],x0-55,ys(v)+p.yLabelDy,'end',66,p.name+'-y-tick-label');
  });
  xTicks.forEach((v,i)=>{
    const ln=make('line',{x1:xs(v),y1:y1,x2:xs(v),y2:y1+28,stroke:'#333','stroke-width':5},g);
    
    
    if(p.showX)addText(xTickLabels[i],xs(v)-7,y1+100,'middle',158,p.name+'-x-tick-label');
  });
}

function drawColorbar(cb){
  const g=make('g',{},plots);
  
  
  const scale=cb.log
    ?(v=>cb.yLo+(Math.log10(v)-Math.log10(cb.vLo))/(Math.log10(cb.vHi)-Math.log10(cb.vLo))*(cb.yHi-cb.yLo))
    :(v=>cb.yLo+(v-cb.vLo)/(cb.vHi-cb.vLo)*(cb.yHi-cb.yLo));
  const id='grad-'+cb.name;
  const grad=make('linearGradient',{id:id,x1:0,y1:1,x2:0,y2:0},defs);
  plasmaStops.forEach((c,i)=>make('stop',{offset:i/(plasmaStops.length-1),'stop-color':c},grad));
  const bottomColor=cb.whiteFrom?cb.whiteFrom:cb.yLo;
  const body=make('rect',{x:cb.x0,y:cb.yHi,width:cb.x1-cb.x0,height:bottomColor-cb.yHi,fill:'url(#'+id+')'},g);
  
  
  if(cb.whiteFrom){
    const w=make('rect',{x:cb.x0,y:cb.whiteFrom,width:cb.x1-cb.x0,height:cb.yLo-cb.whiteFrom,fill:'#fff'},g);
    
    
  }
  const mx=(cb.x0+cb.x1)/2;
  if(cb.tipTop){
    const topTri=make('path',{d:'M'+cb.x0+' '+cb.yHi+'L'+mx+' '+cb.tipTop+'L'+cb.x1+' '+cb.yHi+'Z',fill:plasmaStops[9],stroke:'#6b6b20','stroke-width':4},g);
    
    
    const botTri=make('path',{d:'M'+cb.x0+' '+cb.yLo+'L'+mx+' '+cb.tipBottom+'L'+cb.x1+' '+cb.yLo+'Z',fill:plasmaStops[0],stroke:'#1a1a50','stroke-width':4},g);
    
    
  }
  const frame=make('rect',{x:cb.x0,y:cb.yHi-(cb.tipTop?0:3),width:cb.x1-cb.x0,height:cb.yLo-cb.yHi+(cb.tipTop?0:5),fill:'none',stroke:cb.tipTop?'#666':'#333','stroke-width':cb.tipTop?5:7},g);
  
  
  const mid=(cb.yHi+cb.yLo)/2;
  cb.ticks.forEach((v,i)=>{
    const y=scale(v);
    const ln=make('line',{x1:cb.x1,y1:y,x2:cb.tickEnd,y2:y,stroke:'#333','stroke-width':5},g);
    
    
    const dy=cb.tipTop?(y>mid+5?28:21):cb.labelDy;
    addText(cb.labels[i],cb.labelX,y+dy,'start',labelWidth(cb.labels[i]),cb.name+'-tick-label');
  });
}

const colA=[142.5,786],colB=[1158.7,1804];
const rowY=[[296,811],[1081,1595],[2118,2631],[2902,3415.5]];
function box(col,row){return [col[0],rowY[row][0],col[1],rowY[row][1]];}

const panels=[
{name:'sst-c2',box:box(colA,0),grid:sstC2Grid,blur:'soft',contours:sstC2Contours,dots:sstC2Dots,red:sstC2Red,black:sstC2Black,showY:true,showX:false,yLabelDy:21.5},
{name:'chl-c2',box:box(colB,0),grid:chlC2Grid,blur:'soft',dots:chlC2Dots,red:chlC2Red,black:chlC2Black,showY:false,showX:false,yLabelDy:21.5},
{name:'fsle-c2',box:box(colA,1),grid:fsleC2Grid,blur:'softer',ridges:fsleC2Ridges,ridgeLevels:fsleC2RidgeLevels,ridgeWidths:[11,9,9,11,5,9,5,8,8,8,8,16],valleys:fsleC2Valleys,red:fsleC2Red,black:fsleC2Black,showY:true,showX:true,yLabelDy:28.5},
{name:'age-c2',box:box(colB,1),grid:ageC2Grid,blur:'softer',ridges:ageC2Ridges,ridgeLevels:ageC2RidgeLevels,ridgeWidths:[14,14,26,14,14,14,14,14,16,20,16,14,16,14,14,18],streaks:ageC2Streaks,specks:ageC2Specks,speckLevels:ageC2SpeckLevels,red:ageC2Red,black:ageC2Black,showY:false,showX:true,yLabelDy:28.5},
{name:'sst-c3',box:box(colA,2),grid:sstC3Grid,blur:'soft',contours:sstC3Contours,dots:sstC3Dots,red:sstC3Red,black:sstC3Black,showY:true,showX:false,yLabelDy:21.5},
{name:'chl-c3',box:box(colB,2),grid:chlC3Grid,blur:'soft',dots:chlC3Dots,red:chlC3Red,black:chlC3Black,showY:false,showX:false,yLabelDy:21.5},
{name:'fsle-c3',box:box(colA,3),grid:fsleC3Grid,blur:'softer',ridges:fsleC3Ridges,ridgeLevels:fsleC3RidgeLevels,ridgeWidths:[14,12,9,12,12,13,11,11,18,8,14,10,10,6,6],valleys:fsleC3Valleys,red:fsleC3Red,black:fsleC3Black,showY:true,showX:true,yLabelDy:27.5},
{name:'age-c3',box:box(colB,3),grid:ageC3Grid,blur:'softer',ridges:ageC3Ridges,ridgeLevels:ageC3RidgeLevels,ridgeWidths:[18,24,24,24,22,14,16,18,30,14,16,14,16,16,14],streaks:ageC3Streaks,specks:ageC3Specks,speckLevels:ageC3SpeckLevels,red:ageC3Red,black:ageC3Black,showY:false,showX:true,yLabelDy:27.5}
];
panels.forEach(drawPanel);

const colorbars=[
{name:'sst-c2-colorbar',x0:817,x1:850,tickEnd:877,labelX:898,vHi:16,vLo:14,yHi:303,yLo:804,tipTop:269,tipBottom:833,ticks:sstCbTicks,labels:sstCbLabels},
{name:'chl-c2-colorbar',x0:1839,x1:1868,tickEnd:1901,labelX:1918,log:true,vHi:5,vLo:0.01,yHi:303,yLo:804,tipTop:269,tipBottom:833,whiteFrom:672,ticks:chlCbTicks,labels:chlCbLabels},
{name:'fsle-c2-colorbar',x0:826,x1:850,tickEnd:877,labelX:900,vHi:0.6,vLo:0,yHi:1062,yLo:1620.7,ticks:fsleCbTicks,labels:fsleCbLabels,labelDy:25},
{name:'age-c2-colorbar',x0:1842,x1:1872,tickEnd:1901,labelX:1918,vHi:90,vLo:0,yHi:1064,yLo:1620.7,ticks:ageCbTicks,labels:ageCbLabels,labelDy:23},
{name:'sst-c3-colorbar',x0:817,x1:850,tickEnd:877,labelX:898,vHi:16,vLo:14,yHi:2124,yLo:2625,tipTop:2089,tipBottom:2654,ticks:sstCbTicks,labels:sstCbLabels},
{name:'chl-c3-colorbar',x0:1839,x1:1868,tickEnd:1901,labelX:1918,log:true,vHi:5,vLo:0.01,yHi:2124,yLo:2625,tipTop:2089,tipBottom:2654,whiteFrom:2493,ticks:chlCbTicks,labels:chlCbLabels},
{name:'fsle-c3-colorbar',x0:826,x1:850,tickEnd:877,labelX:900,vHi:0.6,vLo:0,yHi:2882,yLo:3441,ticks:fsleCbTicks,labels:fsleCbLabels,labelDy:25},
{name:'age-c3-colorbar',x0:1842,x1:1872,tickEnd:1901,labelX:1918,vHi:90,vLo:0,yHi:2885,yLo:3441,ticks:ageCbTicks,labels:ageCbLabels,labelDy:23}
];
colorbars.forEach(drawColorbar);
</script>
</body>
</html>
